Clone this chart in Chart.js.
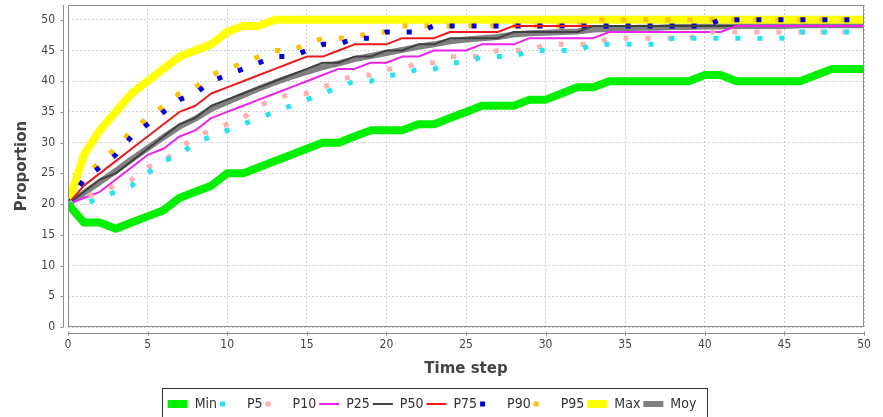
<!DOCTYPE html>
<html>
<head>
<meta charset="utf-8">
<script src="https://cdn.jsdelivr.net/npm/chart.js@4.4.1/dist/chart.umd.min.js"></script>
<style>
  body { margin: 0; background: #fff; }
  canvas { display: block; }
</style>
</head>
<body>
<canvas id="chart" width="883" height="417"></canvas>
<script>
// time steps on the x axis
var steps = [0,1,2,3,4,5,6,7,8,9,10,11,12,13,14,15,16,17,18,19,20,21,22,23,24,25,
             26,27,28,29,30,31,32,33,34,35,36,37,38,39,40,41,42,43,44,45,46,47,48,49,50];

var minVals = [20,17,17,16,17,18,19,21,22,23, 25,25,26,27,28,29,30,30,31,32,
               32,32,33,33,34,35,36,36,36,37, 37,38,39,39,40,40,40,40,40,40,
               41,41,40,40,40,40,40,41,42,42,42];
var p5 = [20,20,21,22,23,25,27,28,30,31, 32,33,34,35,36,37,38,39,40,40,
          41,41,42,42,43,43,44,44,44,45, 45,45,45,46,46,46,46,46,47,47,
          47,47,47,47,47,47,48,48,48,48,48];
var p10 = [20,21,22,23,24,26,27,29,31,32, 33,34,36,37,38,38,39,40,41,41,
           42,42,43,43,44,44,44,45,45,45, 46,46,46,46,47,47,47,47,47,47,
           48,48,48,48,48,48,48,48,48,48,48];
var p25 = [20,21,22,24,26,28,29,31,32,34, 35,36,37,38,39,40,41,42,42,43,
           43,44,44,45,45,45,46,46,46,47, 47,47,47,47,48,48,48,48,48,48,
           48,48,49,49,49,49,49,49,49,49,49];
var p50 = [20,22,24,25,27,29,31,33,34,36, 37,38,39,40,41,42,43,43,44,44,
           45,45,46,46,47,47,47,47,48,48, 48,48,48,49,49,49,49,49,49,49,
           49,49,49,49,49,49,49,49,49,49,49];
var p75 = [20,23,25,27,29,31,33,35,36,38, 39,40,41,42,43,44,44,45,46,46,
           46,47,47,47,48,48,48,48,49,49, 49,49,49,49,49,49,49,49,49,49,
           49,49,49,49,49,49,49,49,49,49,49];
var p90 = [20,24,26,28,31,33,35,37,38,40, 41,42,43,44,44,45,46,46,47,47,
           48,48,48,49,49,49,49,49,49,49, 49,49,49,49,49,49,49,49,49,49,
           49,50,50,50,50,50,50,50,50,50,50];
var p95 = [20,24,27,29,32,34,36,38,39,41, 42,43,44,45,45,46,47,47,47,48,
           48,49,49,49,49,49,49,49,49,49, 49,49,49,50,50,50,50,50,50,50,
           50,50,50,50,50,50,50,50,50,50,50];
var maxVals = [20,28,32,35,38,40,42,44,45,46, 48,49,49,50,50,50,50,50,50,50,
               50,50,50,50,50,50,50,50,50,50, 50,50,50,50,50,50,50,50,50,50,
               50,50,50,50,50,50,50,50,50,50,50];
var moy = [20,21.8,23.6,25.4,27.3,29.1,30.9,32.6,33.9,35.5, 36.6,37.7,38.8,39.8,40.7,41.5,42.3,42.9,43.6,44.1,
           44.6,45.1,45.6,46.0,46.5,46.8,47.0,47.2,47.6,47.8, 47.9,48.0,48.1,48.4,48.5,48.6,48.7,48.7,48.8,48.8,
           48.9,48.9,49.0,49.0,49.0,49.0,49.1,49.1,49.1,49.1,49.1];

function pts(vals) {
  return vals.map(function (v, i) { return { x: steps[i], y: v }; });
}

var dotted = [5, 17];

function series(label, vals, color, width, dash) {
  return {
    label: label,
    data: pts(vals),
    borderColor: color,
    backgroundColor: color,
    borderWidth: width,
    borderDash: dash || [],
    borderCapStyle: 'butt',
    borderJoinStyle: dash ? 'miter' : 'round',
    pointRadius: 0,
    fill: false,
    tension: 0
  };
}

var datasets = [
  series('Min', minVals, '#00f000', 8),
  series('P5', p5, '#22e4f2', 5, dotted),
  series('P10', p10, '#ffafaf', 5, dotted),
  series('P25', p25, '#ee22ee', 2),
  series('P50', p50, '#404040', 2),
  series('P75', p75, '#ee1a1a', 2),
  series('P90', p90, '#0000d8', 5, dotted),
  series('P95', p95, '#ffc000', 5, dotted),
  series('Max', maxVals, '#ffff00', 8),
  series('Moy', moy, '#808080', 6)
];

// plot outline, offset axis lines and legend frame
var framePlugin = {
  id: 'frame',
  afterDraw: function (chart) {
    var ctx = chart.ctx, a = chart.chartArea;
    var xs = chart.scales.x, ys = chart.scales.y;
    ctx.save();
    ctx.lineWidth = 1;
    ctx.strokeStyle = '#8c8c8c';
    ctx.strokeRect(a.left + 0.5, a.top + 0.5, a.right - a.left - 1, a.bottom - a.top - 1);

    ctx.beginPath();
    var ax = a.left - 4.5;
    ctx.moveTo(ax, a.top); ctx.lineTo(ax, a.bottom);
    ys.ticks.forEach(function (t) {
      var py = Math.round(ys.getPixelForValue(t.value)) + 0.5;
      ctx.moveTo(ax, py); ctx.lineTo(ax - 3, py);
    });
    var ay = a.bottom + 6.5;
    ctx.moveTo(a.left, ay); ctx.lineTo(a.right, ay);
    xs.ticks.forEach(function (t) {
      var px = Math.round(xs.getPixelForValue(t.value)) + 0.5;
      ctx.moveTo(px, ay - 2); ctx.lineTo(px, ay + 2);
    });
    ctx.stroke();

    var lg = chart.legend, hb = lg.legendHitBoxes;
    if (hb && hb.length) {
      var l = hb[0].left - 6;
      var r = hb[hb.length - 1].left + hb[hb.length - 1].width + 10;
      ctx.strokeStyle = '#333';
      ctx.strokeRect(Math.round(l) + 0.5, Math.round(lg.top) - 5.5, Math.round(r - l), 60);
    }
    ctx.restore();
  }
};

var tickFont = { family: '"DejaVu Sans Condensed", "DejaVu Sans", sans-serif', size: 12 };
var yTickFont = { family: '"DejaVu Sans Condensed", "DejaVu Sans", sans-serif', size: 12, lineHeight: 0.8 };
var titleFont = { family: '"DejaVu Sans", sans-serif', size: 15, weight: 'bold' };

new Chart(document.getElementById('chart').getContext('2d'), {
  type: 'line',
  data: { datasets: datasets },
  plugins: [framePlugin],
  options: {
    responsive: false,
    animation: false,
    devicePixelRatio: 1,
    layout: { padding: { left: 0, right: 19, top: 5, bottom: -4 } },
    scales: {
      x: {
        type: 'linear',
        min: 0,
        max: 50,
        afterFit: function (s) { s.height = 67; },
        ticks: { stepSize: 5, font: tickFont, color: '#444', padding: 11, maxRotation: 0 },
        grid: { color: '#d0d0d0', drawTicks: false },
        border: { display: false, dash: [2, 2] },
        title: { display: true, text: 'Time step', font: titleFont, color: '#444',
                 padding: { top: 0, bottom: 16 } }
      },
      y: {
        min: 0,
        max: 52.4,
        afterFit: function (s) { s.width = 68; },
        ticks: { stepSize: 5, includeBounds: false, font: yTickFont, color: '#444', padding: 0 },
        grid: { color: '#d0d0d0', drawTicks: true, tickLength: 13, tickColor: 'rgba(0,0,0,0)' },
        border: { display: false, dash: [2, 2] },
        title: { display: true, text: 'Proportion', font: titleFont, color: '#444',
                 padding: { top: 13, bottom: 0 } }
      }
    },
    plugins: {
      tooltip: { enabled: false },
      legend: {
        position: 'bottom',
        labels: {
          font: { family: '"DejaVu Sans Condensed", "DejaVu Sans", sans-serif', size: 14 },
          color: '#333',
          padding: 3,
          usePointStyle: true,
          pointStyleWidth: 20,
          boxHeight: 8,
          generateLabels: function (chart) {
            return chart.data.datasets.map(function (ds, i) {
              var dashed = ds.borderDash && ds.borderDash.length;
              return {
                text: ds.label,
                fillStyle: ds.borderColor,
                strokeStyle: ds.borderColor,
                fontColor: '#333',
                lineWidth: ds.borderWidth,
                lineDash: dashed ? [5, 60] : [],
                lineCap: 'butt',
                pointStyle: 'line',
                rotation: 180,
                hidden: false,
                datasetIndex: i
              };
            });
          }
        }
      }
    }
  }
});
</script>
</body>
</html>
